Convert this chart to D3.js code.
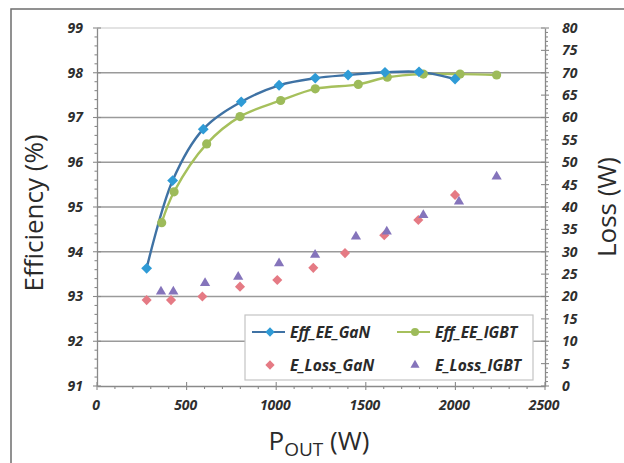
<!DOCTYPE html>
<html><head><meta charset="utf-8">
<script src="https://cdn.jsdelivr.net/npm/d3@7"></script>
<style>
html,body{margin:0;padding:0;background:#fff;}
svg{display:block;}
.tick text{font-family:"Open Sans",sans-serif;font-weight:700;font-style:italic;font-size:14px;fill:#2e2e2e;}
</style></head>
<body><svg id="c" width="624" height="463"></svg>
<script>
// ---- data ----
const gaNPower   = [277, 422, 593, 805, 1016, 1218, 1401, 1607, 1797, 1998];
const effGaN     = [93.63, 95.59, 96.74, 97.35, 97.72, 97.88, 97.95, 98.01, 98.02, 97.86];
const igbtPower  = [361, 430, 612, 798, 1025, 1218, 1458, 1620, 1821, 2026, 2230];
const effIGBT    = [94.65, 95.34, 96.41, 97.02, 97.38, 97.64, 97.74, 97.90, 97.97, 97.97, 97.95];
const lossGaNPower  = [277, 413, 588, 798, 1006, 1207, 1384, 1603, 1793, 1998];
const lossGaN       = [19.2, 19.2, 20.0, 22.2, 23.7, 26.4, 29.7, 33.7, 37.1, 42.7];
const lossIGBTPower = [357, 426, 603, 788, 1016, 1217, 1445, 1617, 1821, 2020, 2230];
const lossIGBT      = [21.1, 21.1, 23.0, 24.4, 27.4, 29.3, 33.4, 34.5, 38.2, 41.2, 46.8];
const xTicks = [0, 500, 1000, 1500, 2000, 2500];
const effTicks = [91, 92, 93, 94, 95, 96, 97, 98, 99];
const lossTicks = [0,5,10,15,20,25,30,35,40,45,50,55,60,65,70,75,80];
const legendNames = ["Eff_EE_GaN", "Eff_EE_IGBT", "E_Loss_GaN", "E_Loss_IGBT"];

const svg = d3.select("#c");
const L = 97, R = 545, T = 28, B = 386;
const x = d3.scaleLinear([0, 2500], [L, R]);
const yE = d3.scaleLinear([91, 99], [B, T]);
const yL = d3.scaleLinear([0, 80], [B, T]);

// outer frame
svg.append("rect").attr("x", 11).attr("y", 9).attr("width", 700).attr("height", 600)
  .attr("fill", "none").attr("stroke", "#6e6e6e").attr("stroke-width", 1.5);

// gridlines
svg.append("g").selectAll("line").data(effTicks.slice(1)).join("line")
  .attr("x1", L).attr("x2", R).attr("y1", d => yE(d)).attr("y2", d => yE(d))
  .attr("stroke", d => d === 99 ? "#c8c8c8" : "#9a9a9a").attr("stroke-width", d => d === 99 ? 1.2 : 1.6);

// axes
const tickColor = "#8a8a8a";
function styleAxis(g){ g.select(".domain").attr("stroke", tickColor).attr("stroke-width", 1.3); }

const gl = svg.append("g").attr("transform", `translate(${L},0)`)
  .call(d3.axisLeft(yE).tickValues(effTicks).tickSize(0).tickPadding(14).tickFormat(d3.format("d")));
styleAxis(gl);
const gr = svg.append("g").attr("transform", `translate(${R},0)`)
  .call(d3.axisRight(yL).tickValues(lossTicks).tickSize(0).tickPadding(17).tickFormat(d3.format("d")));
styleAxis(gr);
const gb = svg.append("g").attr("transform", `translate(0,${B})`)
  .call(d3.axisBottom(x).tickValues(xTicks).tickSize(0).tickPadding(14).tickFormat(d3.format("d")));
styleAxis(gb);
gb.selectAll(".tick text").attr("dx", "-0.1em");

// tick marks
const tk = svg.append("g").attr("stroke", tickColor).attr("stroke-width", 1.1);
d3.range(91, 99.01, 0.2).forEach(v => {
  const major = Math.abs(v - Math.round(v)) < 1e-6;
  tk.append("line").attr("x1", L - (major ? 4 : 2.5)).attr("x2", L + (major ? 4 : 0)).attr("y1", yE(v)).attr("y2", yE(v));
});
d3.range(0, 80.01, 1).forEach(v => {
  const major = v % 5 === 0;
  tk.append("line").attr("x1", R - (major ? 4 : 0)).attr("x2", R + (major ? 4 : 3)).attr("y1", yL(v)).attr("y2", yL(v));
});
d3.range(0, 2501, 100).forEach(v => {
  const major = v % 500 === 0;
  tk.append("line").attr("x1", x(v)).attr("x2", x(v)).attr("y1", B - (major ? 4 : 0)).attr("y2", B + (major ? 4 : 3));
});

// series
const cGaNLine = "#3f72a4", cGaNMark = "#2f9bd6";
const cIGBTLine = "#a6c05c", cIGBTMark = "#9dbb5a";
const cPink = "#e57a84", cPurple = "#8574bb";
const curve = d3.curveCatmullRom.alpha(0.5);

const gaN = gaNPower.map((p, i) => [p, effGaN[i]]);
const igbt = igbtPower.map((p, i) => [p, effIGBT[i]]);
const lGaN = lossGaNPower.map((p, i) => [p, lossGaN[i]]);
const lIGBT = lossIGBTPower.map((p, i) => [p, lossIGBT[i]]);

const lineE = d3.line().x(d => x(d[0])).y(d => yE(d[1])).curve(curve);
svg.append("path").attr("d", lineE(igbt)).attr("fill", "none").attr("stroke", cIGBTLine).attr("stroke-width", 2.4);
svg.append("path").attr("d", lineE(gaN)).attr("fill", "none").attr("stroke", cGaNLine).attr("stroke-width", 2.4);

const diamond = d3.symbol().type(d3.symbolDiamond2);
const tri = d3.symbol().type(d3.symbolTriangle2);

svg.append("g").selectAll("circle").data(igbt).join("circle")
  .attr("cx", d => x(d[0])).attr("cy", d => yE(d[1])).attr("r", 4.6).attr("fill", cIGBTMark);
svg.append("g").selectAll("path").data(gaN).join("path")
  .attr("transform", d => `translate(${x(d[0])},${yE(d[1])})`).attr("d", diamond.size(75)).attr("fill", cGaNMark);

svg.append("g").selectAll("path").data(lGaN).join("path")
  .attr("transform", d => `translate(${x(d[0])},${yL(d[1])})`).attr("d", diamond.size(65)).attr("fill", cPink);
svg.append("g").selectAll("path").data(lIGBT).join("path")
  .attr("transform", d => `translate(${x(d[0])},${yL(d[1])})`).attr("d", tri.size(75)).attr("fill", cPurple);

// legend
const lg = svg.append("g");
lg.append("rect").attr("x", 245).attr("y", 315).attr("width", 288).attr("height", 65)
  .attr("fill", "#fff").attr("stroke", "#c4c4c4").attr("stroke-width", 1.2);
const legItems = [
  {name: legendNames[0], x: 252, y: 332, type: "line", lc: cGaNLine, mc: cGaNMark, m: "diamond"},
  {name: legendNames[1], x: 397, y: 332, type: "line", lc: cIGBTLine, mc: cIGBTMark, m: "circle"},
  {name: legendNames[2], x: 252, y: 365, type: "pt", mc: cPink, m: "diamond"},
  {name: legendNames[3], x: 397, y: 365, type: "pt", mc: cPurple, m: "tri"}
];
legItems.forEach(it => {
  const cx = it.x + 18;
  if (it.type === "line") lg.append("line").attr("x1", it.x).attr("x2", it.x + 33).attr("y1", it.y).attr("y2", it.y)
    .attr("stroke", it.lc).attr("stroke-width", 2.2);
  if (it.m === "diamond") lg.append("path").attr("transform", `translate(${cx},${it.y})`).attr("d", diamond.size(55)).attr("fill", it.mc);
  if (it.m === "circle") lg.append("circle").attr("cx", cx).attr("cy", it.y).attr("r", 4).attr("fill", it.mc);
  if (it.m === "tri") lg.append("path").attr("transform", `translate(${cx},${it.y})`).attr("d", tri.size(60)).attr("fill", it.mc);
  lg.append("text").attr("x", it.x + 38).attr("y", it.y + 5.5).text(it.name)
    .attr("font-family", "Open Sans, sans-serif").attr("font-weight", 700).attr("font-style", "italic")
    .attr("font-size", 15.5).attr("fill", "#2a2a2a");
});

// axis titles
const tf = "Open Sans, sans-serif";
svg.append("text").attr("transform", `translate(43,${(T + B) / 2 + 6}) rotate(-90)`).attr("text-anchor", "middle")
  .attr("font-family", tf).attr("font-size", 26).attr("fill", "#2a2a2a").text("Efficiency (%)");
svg.append("text").attr("transform", `translate(616,${(T + B) / 2}) rotate(-90)`).attr("text-anchor", "middle")
  .attr("font-family", tf).attr("font-size", 26).attr("fill", "#2a2a2a").text("Loss (W)");
const xt = svg.append("text").attr("x", (L + R) / 2 - 2).attr("y", 450).attr("text-anchor", "middle")
  .attr("font-family", tf).attr("font-size", 26).attr("fill", "#2a2a2a");
xt.append("tspan").text("P");
xt.append("tspan").attr("font-size", 19).attr("dy", 6).text("OUT");
xt.append("tspan").attr("dy", -6).text(" (W)");
</script></body></html>
